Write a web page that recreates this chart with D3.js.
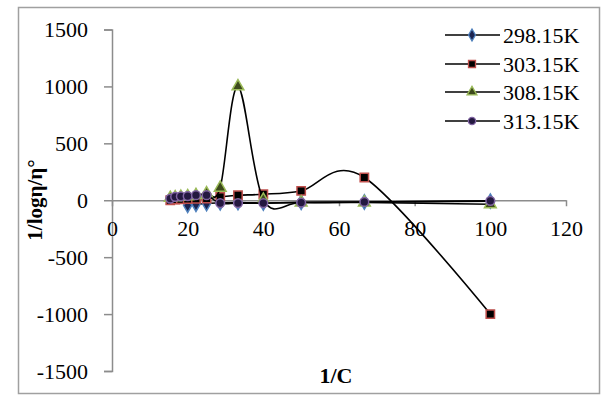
<!DOCTYPE html>
<html>
<head>
<meta charset="utf-8">
<script src="https://cdn.jsdelivr.net/npm/d3@7"></script>
<style>
  html, body { margin: 0; padding: 0; background: #fff; }
  svg { display: block; }
  text { font-family: "Liberation Serif", "Times New Roman", serif; fill: #000; }
</style>
</head>
<body>
<svg id="chart" width="608" height="407"></svg>
<script>
// 1/C values (inverse concentration)
const invC = [15.4, 16.7, 18.2, 20, 22.2, 25, 28.6, 33.3, 40, 50, 66.7, 100];

// 1/log(eta/eta0) for each temperature
const k298 = [null, null, null, -44, -35, -29, -22, -20, -24, -18, -15, -8];
const k303 = [0, 5, 8, 10, 12, 15, 29, 44, 53, 82, 200, -1000];
const k308 = [20, 25, 30, 35, 45, 60, 110, 1000, 5, -20, -20, -35];
const k313 = [15, 30, 35, 37, 45, 45, -25, -25, -25, -20, -15, -5];

const seriesNames = ["298.15K", "303.15K", "308.15K", "313.15K"];
const seriesValues = [k298, k303, k308, k313];

const xTicks = [0, 20, 40, 60, 80, 100, 120];
const yTicks = [-1500, -1000, -500, 0, 500, 1000, 1500];

const svg = d3.select("#chart");

// outer frame
svg.append("rect")
  .attr("x", 18.5).attr("y", 7.5).attr("width", 581).attr("height", 386)
  .attr("fill", "none").attr("stroke", "#a0a0a0").attr("stroke-width", 1.5);

const x = d3.scaleLinear().domain([0, 120]).range([112, 566]);
const y = d3.scaleLinear().domain([-1500, 1500]).range([371, 29.5]);

const axisColor = "#8c8c8c";
const plain = d => String(d);

// y axis
const yAxis = svg.append("g").attr("transform", `translate(${x(0)},0)`)
  .call(d3.axisLeft(y).tickValues(yTicks).tickSize(8).tickFormat(plain));
yAxis.select(".domain").attr("stroke", axisColor).attr("stroke-width", 1.5);
yAxis.selectAll(".tick line").attr("stroke", axisColor).attr("stroke-width", 1.5);
yAxis.selectAll(".tick text")
  .style("font-family", '"Liberation Serif", serif').style("font-size", "22px")
  .attr("fill", "#000").attr("dy", "0.33em").attr("x", -24);

// x axis along the zero line
const xAxis = svg.append("g").attr("transform", `translate(0,${y(0)})`)
  .call(d3.axisBottom(x).tickValues(xTicks).tickSize(6).tickSizeOuter(0).tickFormat(plain));
xAxis.select(".domain").attr("stroke", axisColor).attr("stroke-width", 1.5);
xAxis.selectAll(".tick line").attr("stroke", axisColor).attr("stroke-width", 1.5);
xAxis.selectAll(".tick text")
  .style("font-family", '"Liberation Serif", serif').style("font-size", "22px")
  .attr("fill", "#000").attr("y", 28).attr("dy", "0.33em");

// axis titles
svg.append("text").attr("x", 336).attr("y", 383)
  .attr("text-anchor", "middle").style("font-size", "22px").style("font-weight", "bold")
  .text("1/C");
svg.append("text")
  .attr("transform", "translate(42,200) rotate(-90)")
  .attr("text-anchor", "middle").style("font-size", "21px").style("font-weight", "bold")
  .text("1/logη/η°");

// marker styles
const markers = [
  { type: d3.symbolDiamond, size: 60, fill: "#1c2450", stroke: "#4f81bd" },
  { type: d3.symbolSquare,  size: 70, fill: "#000000", stroke: "#c0504d" },
  { type: d3.symbolTriangle, size: 60, fill: "#3d4a1c", stroke: "#9bbb59" },
  { type: d3.symbolCircle,  size: 60, fill: "#241840", stroke: "#8064a2" }
];

const line = d3.line()
  .defined(d => d.v !== null)
  .x(d => x(d.x)).y(d => y(d.v))
  .curve(d3.curveCardinal.tension(0));

const plot = svg.append("g");
seriesValues.forEach((vals, i) => {
  const pts = invC.map((c, j) => ({ x: c, v: vals[j] })).filter(d => d.v !== null);
  const g = plot.append("g");
  g.append("path").datum(pts)
    .attr("d", line).attr("fill", "none")
    .attr("stroke", "#000").attr("stroke-width", 1.6);
  const m = markers[i];
  g.selectAll("path.mk").data(pts).enter().append("path")
    .attr("class", "mk")
    .attr("d", d3.symbol().type(m.type).size(m.size))
    .attr("transform", d => `translate(${x(d.x)},${y(d.v)})`)
    .attr("fill", m.fill).attr("stroke", m.stroke).attr("stroke-width", 1.5);
});

// legend
const legendY = [35, 64, 92, 121];
const legend = svg.append("g");
seriesNames.forEach((name, i) => {
  const m = markers[i];
  const row = legend.append("g").attr("transform", `translate(0,${legendY[i]})`);
  row.append("line").attr("x1", 445).attr("x2", 500).attr("y1", 0).attr("y2", 0)
    .attr("stroke", "#000").attr("stroke-width", 1.6);
  row.append("path")
    .attr("d", d3.symbol().type(m.type).size(m.size * 0.7))
    .attr("transform", "translate(472,0)")
    .attr("fill", m.fill).attr("stroke", m.stroke).attr("stroke-width", 1.3);
  row.append("text").attr("x", 503).attr("y", 0).attr("dy", "0.35em")
    .style("font-size", "22px").text(name);
});
</script>
</body>
</html>
